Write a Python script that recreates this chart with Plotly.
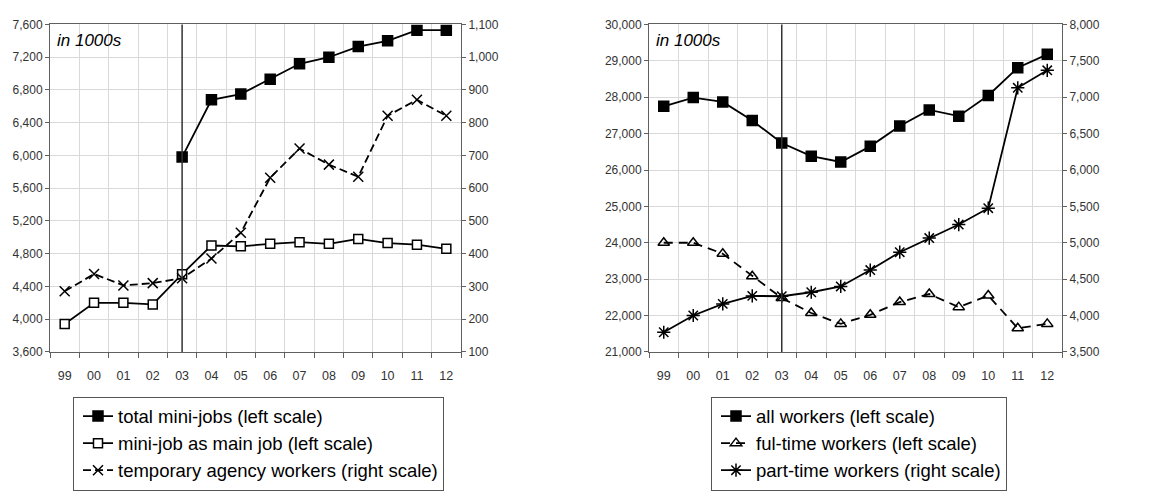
import plotly.graph_objects as go

years = ["99", "00", "01", "02", "03", "04", "05", "06", "07", "08", "09", "10", "11", "12"]

# Left chart (in 1000s)
total_minijobs = [None, None, None, None, 5980, 6680, 6750, 6930, 7120, 7200, 7330, 7400, 7530, 7530]
minijob_main = [3940, 4200, 4200, 4180, 4550, 4900, 4890, 4920, 4940, 4920, 4980, 4930, 4910, 4860]
temp_agency = [285, 338, 303, 310, 325, 385, 464, 632, 721, 672, 635, 821, 870, 821]

# Right chart (in 1000s)
all_workers = [27750, 27990, 27870, 27360, 26740, 26380, 26220, 26650, 27210, 27650, 27480, 28050, 28810, 29180]
fulltime = [24000, 24000, 23700, 23080, 22480, 22070, 21770, 22020, 22370, 22590, 22230, 22550, 21650, 21770]
parttime = [3770, 4000, 4160, 4270, 4265, 4320, 4400, 4625, 4870, 5065, 5250, 5475, 7130, 7370]

left_y_ticks = list(range(3600, 7601, 400))
left_y2_ticks = list(range(100, 1101, 100))
right_y_ticks = list(range(21000, 30001, 1000))
right_y2_ticks = list(range(3500, 8001, 500))

W, H = 1161, 492
FONT = "Liberation Sans, Arial, sans-serif"
AXC = "#606060"
GRID = "#d9d9d9"
TICKF = dict(family=FONT, size=12, color="#333333")

x = list(range(len(years)))

fig = go.Figure()

def line_trace(y, name, xa, ya, symbol, fill, dash, legend, msize=9):
    return go.Scatter(
        x=x, y=y, name=name, xaxis=xa, yaxis=ya, mode="lines+markers",
        line=dict(color="black", width=1.8, dash=dash),
        marker=dict(symbol=symbol, size=msize, color=fill,
                    line=dict(color="black", width=1.5)),
        legend=legend, connectgaps=False,
    )

fig.add_trace(line_trace(total_minijobs, "total mini-jobs (left scale)", "x", "y",
                         "square", "black", "solid", "legend", msize=10))
fig.add_trace(line_trace(minijob_main, "mini-job as main job (left scale)", "x", "y",
                         "square", "white", "solid", "legend"))
fig.add_trace(line_trace(temp_agency, "temporary agency workers (right scale)", "x", "y2",
                         "x-thin-open", "black", "8px,4px", "legend", msize=10))

fig.add_trace(line_trace(all_workers, "all workers (left scale)", "x3", "y3",
                         "square", "black", "solid", "legend2", msize=10))
fig.add_trace(line_trace(fulltime, "ful-time workers (left scale)", "x3", "y3",
                         "triangle-up-open", "black", "9px,6px", "legend2", msize=10))
fig.add_trace(line_trace(parttime, "part-time workers (right scale)", "x3", "y4",
                         "asterisk-open", "black", "solid", "legend2", msize=11))

ydom = [1 - 355 / H, 1 - 18 / H]

def xaxis(dom, anchor):
    return dict(
        domain=dom, anchor=anchor, range=[-0.5, len(years) - 0.5],
        tickmode="array", tickvals=x, ticktext=years, ticks="",
        ticklabelstandoff=12,
        showgrid=False, zeroline=False, tickfont=dict(family=FONT, size=12.5, color="#333333"),
        showline=True, linecolor=AXC, linewidth=1, mirror=True,
        minor=dict(tickmode="array", tickvals=[i - 0.5 for i in range(len(years) + 1)],
                   ticks="outside", ticklen=5, tickcolor=AXC,
                   showgrid=True, gridcolor=GRID, gridwidth=1),
    )

def yaxis(rng, ticks, anchor, side="left", overlay=None, grid=True):
    d = dict(
        range=rng, tickmode="array", tickvals=ticks, tickformat=",d",
        ticks="outside", ticklen=4, tickcolor=AXC, tickfont=TICKF,
        showline=True, linecolor=AXC, linewidth=1, zeroline=False,
        showgrid=grid, gridcolor=GRID, gridwidth=1, side=side, anchor=anchor,
    )
    if overlay:
        d["overlaying"] = overlay
    else:
        d["domain"] = ydom
    return d

LEGY = 1 - 401 / H
fig.update_layout(
    width=W, height=H, margin=dict(l=0, r=0, t=0, b=0),
    paper_bgcolor="white", plot_bgcolor="white",
    font=dict(family=FONT, color="black"),
    xaxis=xaxis([50 / W, 461 / W], "y"),
    yaxis=yaxis([left_y_ticks[0], left_y_ticks[-1]], left_y_ticks, "x"),
    yaxis2=yaxis([left_y2_ticks[0], left_y2_ticks[-1]], left_y2_ticks, "x", side="right",
                 overlay="y", grid=False),
    xaxis3=xaxis([649 / W, 1062 / W], "y3"),
    yaxis3=yaxis([right_y_ticks[0], right_y_ticks[-1]], right_y_ticks, "x3"),
    yaxis4=yaxis([right_y2_ticks[0], right_y2_ticks[-1]], right_y2_ticks, "x3", side="right",
                 overlay="y3", grid=False),
    legend=dict(x=73 / W, y=LEGY, xanchor="left", yanchor="top",
                bordercolor="#555555", borderwidth=1, bgcolor="white",
                font=dict(family=FONT, size=18.5, color="black"),
                itemwidth=30, tracegroupgap=0, indentation=4),
    legend2=dict(x=711 / W, y=LEGY, xanchor="left", yanchor="top",
                 bordercolor="#555555", borderwidth=1, bgcolor="white",
                 font=dict(family=FONT, size=18.5, color="black"),
                 itemwidth=30, tracegroupgap=0, indentation=4),
    showlegend=True,
)

# vertical marker line at 2003
for xa, ya in (("x", "y"), ("x3", "y3")):
    fig.add_shape(type="line", xref=xa, yref=f"{ya} domain", x0=years.index("03"),
                  x1=years.index("03"), y0=0, y1=1,
                  line=dict(color="#333333", width=1.5))
    fig.add_annotation(text="<i>in 1000s</i>", xref=f"{xa} domain", yref=f"{ya} domain",
                       x=0.012, y=0.95, xanchor="left", yanchor="middle", showarrow=False,
                       font=dict(family=FONT, size=17, color="black"))

fig.write_html("out.html", config={"displayModeBar": False},
               post_script="document.body.style.margin='0';")
